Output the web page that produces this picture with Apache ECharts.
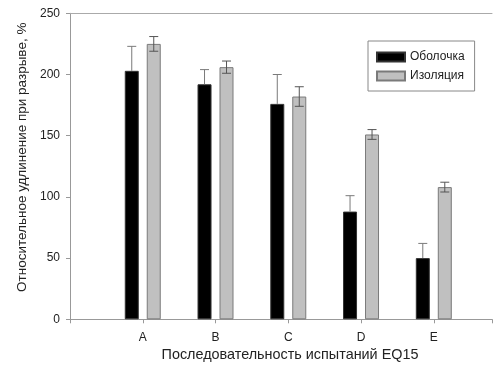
<!DOCTYPE html>
<html><head><meta charset="utf-8">
<script src="https://cdn.jsdelivr.net/npm/echarts@6/dist/echarts.min.js"></script>
<style>html,body{margin:0;padding:0;background:#fff}#c{width:495px;height:373px}</style>
</head><body><div id="c"></div>
<script>
const categories = ['A', 'B', 'C', 'D', 'E'];
const shellValues = [203, 192, 176, 88, 50];
const shellErrors = [20, 12, 24, 13, 12];
const insulValues = [225, 206, 182, 151, 108];
const insulErrors = [6, 5, 8, 4, 4];
const seriesNames = ['Оболочка', 'Изоляция'];
const yTicks = [0, 50, 100, 150, 200, 250];

const font = '"Liberation Sans", Arial, sans-serif';
const chart = echarts.init(document.getElementById('c'), null, {renderer: 'canvas'});

function pairs(vals) { return vals.map((v, i) => [i + 1, v]); }
function errData(vals, errs) { return vals.map((v, i) => [i + 1, v, errs[i]]); }

function errRenderer(offset, upOnly, color) {
  return function (params, api) {
    const x = api.value(0), v = api.value(1), e = api.value(2);
    const pTop = api.coord([x, v + e]);
    const pMid = api.coord([x, v]);
    const pBot = api.coord([x, v - e]);
    const cx = pMid[0] + offset;
    const half = 4.5;
    const style = {stroke: color, lineWidth: 1};
    const children = [
      {type: 'line', shape: {x1: cx, y1: pTop[1], x2: cx, y2: upOnly ? pMid[1] : pBot[1]}, style},
      {type: 'line', shape: {x1: cx - half, y1: pTop[1], x2: cx + half, y2: pTop[1]}, style}
    ];
    if (!upOnly) children.push({type: 'line', shape: {x1: cx - half, y1: pBot[1], x2: cx + half, y2: pBot[1]}, style});
    return {type: 'group', children};
  };
}

chart.setOption({
  animation: false,
  backgroundColor: '#fff',
  textStyle: {fontFamily: font},
  grid: {left: 70, right: 0, top: 13.3, bottom: 53.7, containLabel: false},
  legend: {
    left: 368, top: 41,
    orient: 'vertical',
    data: seriesNames,
    icon: 'rect',
    itemWidth: 28, itemHeight: 9, itemGap: 7,
    padding: [10, 10, 9, 8],
    borderColor: '#888', borderWidth: 1,
    textStyle: {fontFamily: font, fontSize: 12, color: '#222'}
  },
  xAxis: [{
    type: 'value', min: 0, max: 5.8, interval: 1,
    axisLine: {show: true, lineStyle: {color: '#999', width: 1}},
    axisTick: {show: true, length: 4, lineStyle: {color: '#999'}},
    splitLine: {show: false},
    axisLabel: {
      margin: 12, fontSize: 12, color: '#222', fontFamily: font,
      formatter: v => categories[v - 1] || ''
    },
    name: 'Последовательность испытаний EQ15',
    nameLocation: 'middle', nameGap: 23,
    nameTextStyle: {fontSize: 14.4, color: '#222', fontFamily: font, padding: [0, 0, 0, 18]}
  }, {
    type: 'value', position: 'top', min: 0, max: 5.8,
    axisLine: {show: true, lineStyle: {color: '#aaa', width: 1}},
    axisTick: {show: false}, axisLabel: {show: false}, splitLine: {show: false}
  }],
  yAxis: {
    type: 'value', min: yTicks[0], max: yTicks[yTicks.length - 1], interval: 50,
    axisLine: {show: true, lineStyle: {color: '#999', width: 1}},
    axisTick: {show: true, length: 4, lineStyle: {color: '#999'}},
    splitLine: {show: false},
    axisLabel: {margin: 10, fontSize: 12, color: '#222', fontFamily: font},
    name: 'Относительное удлинение при разрыве, %',
    nameLocation: 'middle', nameGap: 40,
    nameTextStyle: {fontSize: 13.5, color: '#222', fontFamily: font, padding: [0, 0, 0, 18]}
  },
  series: [
    {
      name: seriesNames[0], type: 'bar', data: pairs(shellValues),
      barWidth: 14, barGap: '57%', z: 3,
      itemStyle: {color: '#000', borderColor: '#333', borderWidth: 1}
    },
    {
      name: seriesNames[1], type: 'bar', data: pairs(insulValues),
      barWidth: 14, barGap: '57%', z: 3,
      itemStyle: {color: '#c0c0c0', borderColor: '#7a7a7a', borderWidth: 1}
    },
    {
      type: 'custom', data: errData(shellValues, shellErrors), z: 4,
      renderItem: errRenderer(-11, true, '#7a7a7a'), silent: true
    },
    {
      type: 'custom', data: errData(insulValues, insulErrors), z: 4,
      renderItem: errRenderer(11, false, '#555'), silent: true
    }
  ]
});
</script></body></html>
